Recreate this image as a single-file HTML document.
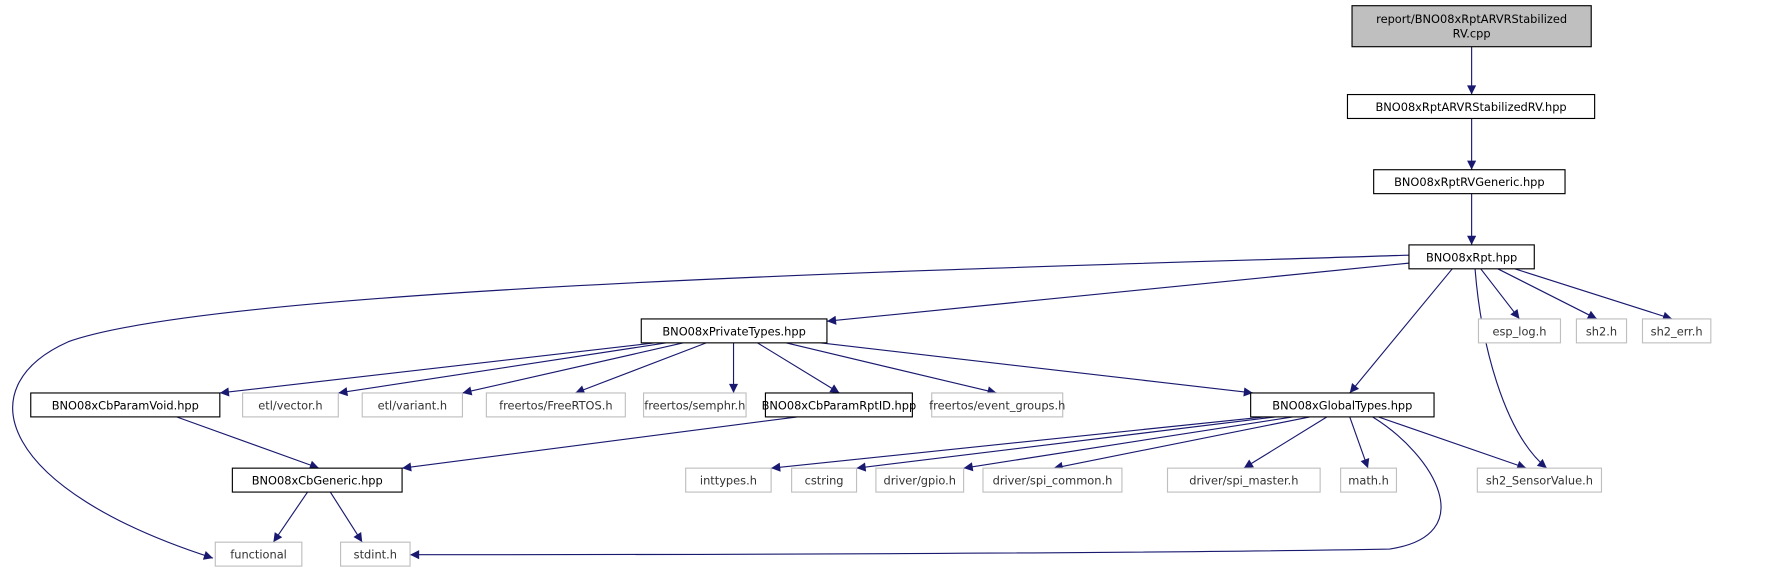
<!DOCTYPE html>
<html><head><meta charset="utf-8"><style>html,body{margin:0;padding:0;background:#fff}svg{display:block}</style></head>
<body>
<svg width="1786" height="575" viewBox="0 0 1568 504.8" xmlns="http://www.w3.org/2000/svg" font-family="DejaVu Sans, Liberation Sans, sans-serif" font-size="10">
<defs><marker id="a" viewBox="0 0 10 10" refX="10" refY="5" markerWidth="10" markerHeight="8" markerUnits="userSpaceOnUse" orient="auto"><path d="M0,0L10,5L0,10z" fill="#191970"/></marker></defs>
<g fill="none" stroke="#191970" stroke-width="1" marker-end="url(#a)">
<path d="M1292,41V83"/><path d="M1292,104V149"/><path d="M1292,170V215"/>
<path d="M1237,224C900,235 200,250 60,300C-30,340 0,430 187,490"/>
<path d="M1237,231L726,282"/>
<path d="M1275,236L1185,345"/>
<path d="M1295,236C1300,300 1320,380 1358,411"/>
<path d="M1300,236L1334,280"/>
<path d="M1315,236L1402,280"/>
<path d="M1330,236L1468,280"/>
<path d="M575,301L193,345"/>
<path d="M585,301L297,345"/>
<path d="M600,301L406,345"/>
<path d="M620,301L505,345"/>
<path d="M644,301V345"/>
<path d="M665,301L737,345"/>
<path d="M690,301L875,345"/>
<path d="M720,301L1100,345"/>
<path d="M155,366L280,411"/>
<path d="M700,366L353,411"/>
<path d="M270,432L240,476"/>
<path d="M290,432L318,476"/>
<path d="M1110,366L677,411"/>
<path d="M1120,366L752,411"/>
<path d="M1135,366L846,411"/>
<path d="M1150,366L925,411"/>
<path d="M1165,366L1092,411"/>
<path d="M1185,366L1201,411"/>
<path d="M1210,366L1340,411"/>
<path d="M1205,366C1260,400 1300,470 1220,482C1000,486 600,487 360,487"/>
</g>
<g stroke-width="1">
<rect x="1187" y="5" width="210" height="36" fill="#bfbfbf" stroke="#000"/>
<g fill="#fff" stroke="#000">
<rect x="1183" y="83" width="217" height="21"/>
<rect x="1206" y="149" width="168" height="21"/>
<rect x="1237" y="215" width="110" height="21"/>
<rect x="563" y="280" width="163" height="21"/>
<rect x="27" y="345" width="166" height="21"/>
<rect x="672" y="345" width="129" height="21"/>
<rect x="1098" y="345" width="161" height="21"/>
<rect x="204" y="411" width="149" height="21"/>
</g>
<g fill="#fff" stroke="#bfbfbf">
<rect x="213" y="345" width="84" height="21"/>
<rect x="318" y="345" width="88" height="21"/>
<rect x="427" y="345" width="122" height="21"/>
<rect x="565" y="345" width="90" height="21"/>
<rect x="818" y="345" width="115" height="21"/>
<rect x="1298" y="280" width="72" height="21"/>
<rect x="1384" y="280" width="44" height="21"/>
<rect x="1442" y="280" width="60" height="21"/>
<rect x="602" y="411" width="75" height="21"/>
<rect x="695" y="411" width="57" height="21"/>
<rect x="769" y="411" width="77" height="21"/>
<rect x="863" y="411" width="122" height="21"/>
<rect x="1025" y="411" width="134" height="21"/>
<rect x="1177" y="411" width="49" height="21"/>
<rect x="1297" y="411" width="109" height="21"/>
<rect x="189" y="476" width="76" height="21"/>
<rect x="299" y="476" width="61" height="21"/>
</g>
</g>
<g text-anchor="middle" fill="#000">
<text x="1292" y="20">report/BNO08xRptARVRStabilized</text>
<text x="1292" y="33">RV.cpp</text>
<text x="1291.5" y="97.5">BNO08xRptARVRStabilizedRV.hpp</text>
<text x="1290" y="163.5">BNO08xRptRVGeneric.hpp</text>
<text x="1292" y="229.5">BNO08xRpt.hpp</text>
<text x="644.5" y="294.5">BNO08xPrivateTypes.hpp</text>
<text x="110" y="359.5">BNO08xCbParamVoid.hpp</text>
<text x="736.5" y="359.5">BNO08xCbParamRptID.hpp</text>
<text x="1178.5" y="359.5">BNO08xGlobalTypes.hpp</text>
<text x="278.5" y="425.5">BNO08xCbGeneric.hpp</text>
</g>
<g text-anchor="middle" fill="#333">
<text x="255" y="359.5">etl/vector.h</text>
<text x="362" y="359.5">etl/variant.h</text>
<text x="488" y="359.5">freertos/FreeRTOS.h</text>
<text x="610" y="359.5">freertos/semphr.h</text>
<text x="875.5" y="359.5">freertos/event_groups.h</text>
<text x="1334" y="294.5">esp_log.h</text>
<text x="1406" y="294.5">sh2.h</text>
<text x="1472" y="294.5">sh2_err.h</text>
<text x="639.5" y="425.5">inttypes.h</text>
<text x="723.5" y="425.5">cstring</text>
<text x="807.5" y="425.5">driver/gpio.h</text>
<text x="924" y="425.5">driver/spi_common.h</text>
<text x="1092" y="425.5">driver/spi_master.h</text>
<text x="1201.5" y="425.5">math.h</text>
<text x="1351.5" y="425.5">sh2_SensorValue.h</text>
<text x="227" y="490.5">functional</text>
<text x="329.5" y="490.5">stdint.h</text>
</g>
</svg>
</body></html>
